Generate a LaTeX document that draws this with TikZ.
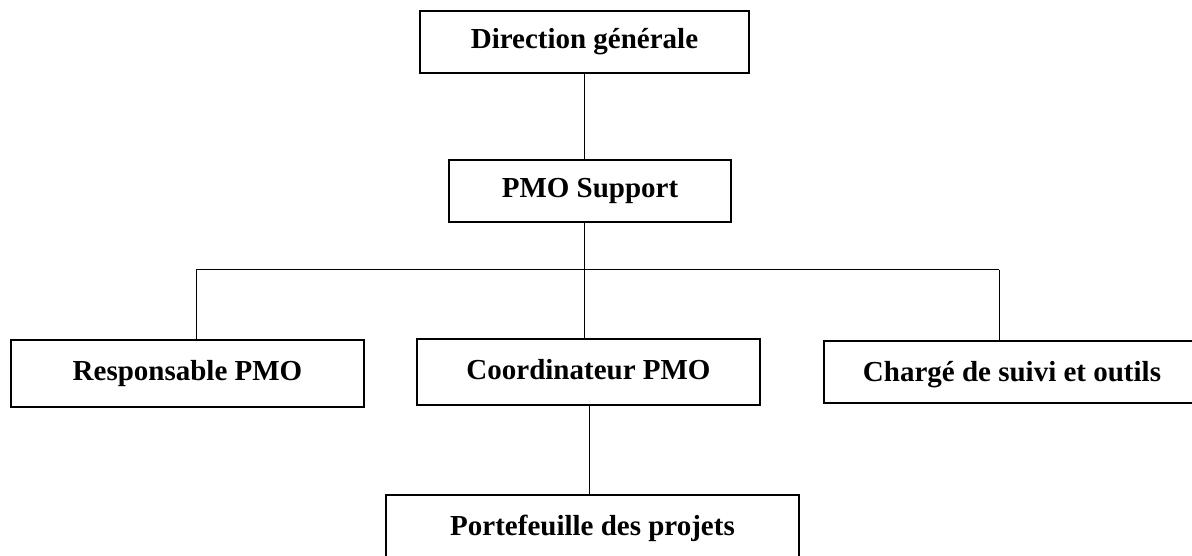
\documentclass[tikz,border=0pt]{standalone}
\usepackage{fontspec}
\setmainfont{Liberation Serif}
\begin{document}
\begin{tikzpicture}[x=1pt,y=-1pt,
  orgbox/.style={draw=black,line width=1.8pt,fill=white,inner sep=0pt,
    text height=20pt,text depth=6pt,
    font=\fontsize{29}{34}\selectfont\bfseries},
  link/.style={draw=black,line width=1pt}]
\clip (0,0) rectangle (1192,556);
\fill[white] (0,0) rectangle (1192,556);
\node[orgbox,minimum width=329pt,minimum height=62pt] (dg) at (584.5,42) {Direction générale};
\node[orgbox,minimum width=282pt,minimum height=62pt] (pmo) at (590,191) {PMO Support};
\node[orgbox,minimum width=353pt,minimum height=67pt] (resp) at (187.5,373.5) {Responsable PMO};
\node[orgbox,minimum width=343pt,minimum height=66pt] (coord) at (588.5,372) {Coordinateur PMO};
\node[orgbox,minimum width=376pt,minimum height=62pt,text height=22pt,text depth=4pt] (charge) at (1012,372) {Chargé de suivi et outils};
\node[orgbox,minimum width=413pt,minimum height=66pt] (port) at (592.5,528) {Portefeuille des projets};
\coordinate (top) at (584,73);
\coordinate (pmob) at (584,222);
\coordinate (busc) at (584,270);
\coordinate (busl) at (196,270);
\coordinate (busr) at (999,270);
\coordinate (cbot) at (589,405);
\draw[link] (top) -- (top |- pmo.north);
\draw[link] (pmob) -- (busc);
\draw[link] (busl) -- (busr);
\draw[link] (busl) -- (busl |- resp.north);
\draw[link] (busc) -- (busc |- coord.north);
\draw[link] (busr) -- (busr |- charge.north);
\draw[link] (cbot) -- (cbot |- port.north);
\end{tikzpicture}
\end{document}
